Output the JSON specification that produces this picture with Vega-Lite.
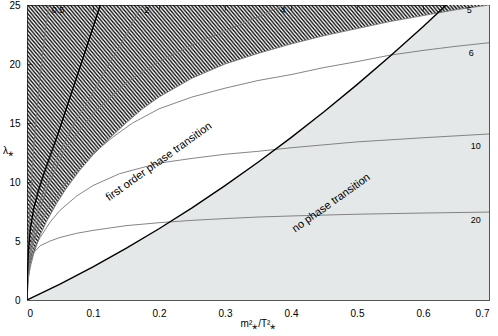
{
"$schema": "https://vega.github.io/schema/vega-lite/v6.json",
"width": 462, "height": 295,
"autosize": {"type": "none"},
"padding": {"left": 27, "top": 5, "right": 9, "bottom": 36},
"background": "white",
"config": {
 "view": {"stroke": "#555", "strokeWidth": 1},
 "axis": {"grid": false, "domainColor": "#555", "tickColor": "#555", "tickSize": -5, "labelColor": "#000", "labelFont": "Liberation Sans", "labelFontSize": 10, "titleFont": "Liberation Sans", "titleFontSize": 10, "titleFontWeight": "normal", "titleColor": "#000", "labelPadding": 12},
 "text": {"font": "Liberation Sans"}
},
"datasets": {
 "gray": [
  {"x":0,"y":0},{"x":0.05,"y":1.35},{"x":0.1,"y":2.81},{"x":0.15,"y":4.37},{"x":0.2,"y":6.04},{"x":0.25,"y":7.81},{"x":0.3,"y":9.69},{"x":0.35,"y":11.67},{"x":0.4,"y":13.76},{"x":0.45,"y":15.95},{"x":0.5,"y":18.25},{"x":0.55,"y":20.65},{"x":0.6,"y":23.16},{"x":0.65,"y":25.77},{"x":0.7,"y":28.49}
 ],
 "thin": [
  {"c":"0.5","x":0,"y":0},{"c":"0.5","x":0.0005,"y":2},{"c":"0.5","x":0.002,"y":5},{"c":"0.5","x":0.005,"y":8.5},{"c":"0.5","x":0.009,"y":12},{"c":"0.5","x":0.014,"y":15.5},{"c":"0.5","x":0.02,"y":19},{"c":"0.5","x":0.027,"y":22.5},{"c":"0.5","x":0.033,"y":25},
  {"c":"2","x":0,"y":0},{"c":"2","x":0.002,"y":3},{"c":"2","x":0.008,"y":5.5},{"c":"2","x":0.02,"y":8.5},{"c":"2","x":0.04,"y":11.5},{"c":"2","x":0.07,"y":14.8},{"c":"2","x":0.1,"y":17.6},{"c":"2","x":0.135,"y":21},{"c":"2","x":0.175,"y":25},
  {"c":"4","x":0,"y":0},{"c":"4","x":0.003,"y":3},{"c":"4","x":0.012,"y":6},{"c":"4","x":0.03,"y":9.5},{"c":"4","x":0.06,"y":13},{"c":"4","x":0.1,"y":15.8},{"c":"4","x":0.15,"y":18.4},{"c":"4","x":0.2,"y":20.2},{"c":"4","x":0.25,"y":21.6},{"c":"4","x":0.3,"y":22.8},{"c":"4","x":0.35,"y":24.0},{"c":"4","x":0.39,"y":25},
  {"c":"5","x":0,"y":0},{"c":"5","x":0.002,"y":1.8},{"c":"5","x":0.005,"y":2.8},{"c":"5","x":0.01,"y":3.9},{"c":"5","x":0.02,"y":5.5},{"c":"5","x":0.03,"y":6.7},{"c":"5","x":0.045,"y":8.2},{"c":"5","x":0.06,"y":9.5},{"c":"5","x":0.08,"y":11},{"c":"5","x":0.1,"y":12.3},{"c":"5","x":0.125,"y":13.7},{"c":"5","x":0.15,"y":15.0},{"c":"5","x":0.175,"y":16.2},{"c":"5","x":0.2,"y":17.2},{"c":"5","x":0.25,"y":18.8},{"c":"5","x":0.3,"y":20.0},{"c":"5","x":0.35,"y":20.9},{"c":"5","x":0.4,"y":21.7},{"c":"5","x":0.45,"y":22.4},{"c":"5","x":0.5,"y":23.0},{"c":"5","x":0.55,"y":23.6},{"c":"5","x":0.6,"y":24.1},{"c":"5","x":0.65,"y":24.6},{"c":"5","x":0.7,"y":25.0},
  {"c":"6","x":0,"y":0},{"c":"6","x":0.001,"y":2.2},{"c":"6","x":0.005,"y":3.8},{"c":"6","x":0.015,"y":5.8},{"c":"6","x":0.03,"y":7.6},{"c":"6","x":0.05,"y":9.3},{"c":"6","x":0.075,"y":11.0},{"c":"6","x":0.1,"y":12.4},{"c":"6","x":0.13,"y":13.8},{"c":"6","x":0.16,"y":15.0},{"c":"6","x":0.2,"y":16.2},{"c":"6","x":0.25,"y":17.2},{"c":"6","x":0.3,"y":17.95},{"c":"6","x":0.35,"y":18.6},{"c":"6","x":0.4,"y":19.1},{"c":"6","x":0.45,"y":19.7},{"c":"6","x":0.5,"y":20.2},{"c":"6","x":0.55,"y":20.75},{"c":"6","x":0.6,"y":21.15},{"c":"6","x":0.65,"y":21.5},{"c":"6","x":0.7,"y":21.8},
  {"c":"10","x":0,"y":0},{"c":"10","x":0.001,"y":1.8},{"c":"10","x":0.004,"y":3.2},{"c":"10","x":0.01,"y":4.3},{"c":"10","x":0.02,"y":5.3},{"c":"10","x":0.035,"y":6.6},{"c":"10","x":0.05,"y":7.6},{"c":"10","x":0.075,"y":8.8},{"c":"10","x":0.1,"y":9.7},{"c":"10","x":0.14,"y":10.7},{"c":"10","x":0.2,"y":11.6},{"c":"10","x":0.25,"y":12.0},{"c":"10","x":0.3,"y":12.35},{"c":"10","x":0.35,"y":12.6},{"c":"10","x":0.4,"y":12.9},{"c":"10","x":0.5,"y":13.4},{"c":"10","x":0.6,"y":13.75},{"c":"10","x":0.7,"y":14.07},
  {"c":"20","x":0,"y":0},{"c":"20","x":0.0005,"y":1.2},{"c":"20","x":0.002,"y":2.4},{"c":"20","x":0.005,"y":3.3},{"c":"20","x":0.01,"y":4.0},{"c":"20","x":0.02,"y":4.6},{"c":"20","x":0.035,"y":5.0},{"c":"20","x":0.05,"y":5.3},{"c":"20","x":0.075,"y":5.65},{"c":"20","x":0.1,"y":5.9},{"c":"20","x":0.15,"y":6.3},{"c":"20","x":0.2,"y":6.55},{"c":"20","x":0.25,"y":6.75},{"c":"20","x":0.3,"y":6.9},{"c":"20","x":0.35,"y":7.03},{"c":"20","x":0.4,"y":7.12},{"c":"20","x":0.5,"y":7.27},{"c":"20","x":0.6,"y":7.37},{"c":"20","x":0.7,"y":7.45}
 ],
 "thick": [
  {"c":"A","x":0,"y":0},{"c":"A","x":0.0005,"y":2},{"c":"A","x":0.002,"y":4},{"c":"A","x":0.005,"y":6},{"c":"A","x":0.01,"y":7.7},{"c":"A","x":0.017,"y":9.2},{"c":"A","x":0.025,"y":10.6},{"c":"A","x":0.035,"y":12.2},{"c":"A","x":0.05,"y":14.6},{"c":"A","x":0.07,"y":18.0},{"c":"A","x":0.09,"y":21.4},{"c":"A","x":0.111,"y":25},
  {"c":"C","x":0,"y":0},{"c":"C","x":0.05,"y":1.35},{"c":"C","x":0.1,"y":2.81},{"c":"C","x":0.15,"y":4.37},{"c":"C","x":0.2,"y":6.04},{"c":"C","x":0.25,"y":7.81},{"c":"C","x":0.3,"y":9.69},{"c":"C","x":0.35,"y":11.67},{"c":"C","x":0.4,"y":13.76},{"c":"C","x":0.45,"y":15.95},{"c":"C","x":0.5,"y":18.25},{"c":"C","x":0.55,"y":20.65},{"c":"C","x":0.6,"y":23.16},{"c":"C","x":0.65,"y":25.77},{"c":"C","x":0.7,"y":28.49}
 ],
 "labels": [
  {"t":"0.5","x":0.047,"y":24.6},{"t":"2","x":0.182,"y":24.6},{"t":"4","x":0.388,"y":24.6},{"t":"5","x":0.67,"y":24.6},{"t":"6","x":0.673,"y":20.9},{"t":"10","x":0.68,"y":13.05},{"t":"20","x":0.68,"y":6.78}
 ],
 "notes": [
  {"t":"first order phase transition","x":0.2,"y":11.7},
  {"t":"no phase transition","x":0.461,"y":8.2}
 ]
},
"layer": [
 {"layer": [
  {"data": {"name": "gray"},
   "mark": {"type": "area", "color": "#e4e8e8", "clip": true},
   "encoding": {
    "x": {"field": "x", "type": "quantitative", "scale": {"domain": [0, 0.7], "nice": false},
          "axis": {"values": [0,0.1,0.2,0.3,0.4,0.5,0.6,0.7], "format": "~g", "title": "m²⁎/T²⁎", "titlePadding": 0, "labelPadding": 13}},
    "y": {"field": "y", "type": "quantitative", "scale": {"domain": [0, 25], "nice": false},
          "axis": {"values": [0,5,10,15,20,25], "title": "λ⁎", "titleAngle": 0, "titleX": -19, "titleY": 145, "titleAlign": "center", "titleBaseline": "middle"}},
    "y2": {"datum": 0}
   }},
  {"data": {"name": "thin"},
   "transform": [{"filter": "datum.c == '5'"}],
   "mark": {"type": "area", "clip": true, "fill": {"gradient": "linear", "x1": 0, "y1": 1, "x2": 1.193, "y2": 0.3605, "stops": [
{"offset":0,"color":"#111"},{"offset":0.0025,"color":"#0000"},{"offset":0.005,"color":"#111"},{"offset":0.0075,"color":"#0000"},
{"offset":0.01,"color":"#111"},{"offset":0.0125,"color":"#0000"},{"offset":0.015,"color":"#111"},{"offset":0.0175,"color":"#0000"},
{"offset":0.02,"color":"#111"},{"offset":0.0225,"color":"#0000"},{"offset":0.025,"color":"#111"},{"offset":0.0275,"color":"#0000"},
{"offset":0.03,"color":"#111"},{"offset":0.0325,"color":"#0000"},{"offset":0.035,"color":"#111"},{"offset":0.0375,"color":"#0000"},
{"offset":0.04,"color":"#111"},{"offset":0.0425,"color":"#0000"},{"offset":0.045,"color":"#111"},{"offset":0.0475,"color":"#0000"},
{"offset":0.05,"color":"#111"},{"offset":0.0525,"color":"#0000"},{"offset":0.055,"color":"#111"},{"offset":0.0575,"color":"#0000"},
{"offset":0.06,"color":"#111"},{"offset":0.0625,"color":"#0000"},{"offset":0.065,"color":"#111"},{"offset":0.0675,"color":"#0000"},
{"offset":0.07,"color":"#111"},{"offset":0.0725,"color":"#0000"},{"offset":0.075,"color":"#111"},{"offset":0.0775,"color":"#0000"},
{"offset":0.08,"color":"#111"},{"offset":0.0825,"color":"#0000"},{"offset":0.085,"color":"#111"},{"offset":0.0875,"color":"#0000"},
{"offset":0.09,"color":"#111"},{"offset":0.0925,"color":"#0000"},{"offset":0.095,"color":"#111"},{"offset":0.0975,"color":"#0000"},
{"offset":0.1,"color":"#111"},{"offset":0.1025,"color":"#0000"},{"offset":0.105,"color":"#111"},{"offset":0.1075,"color":"#0000"},
{"offset":0.11,"color":"#111"},{"offset":0.1125,"color":"#0000"},{"offset":0.115,"color":"#111"},{"offset":0.1175,"color":"#0000"},
{"offset":0.12,"color":"#111"},{"offset":0.1225,"color":"#0000"},{"offset":0.125,"color":"#111"},{"offset":0.1275,"color":"#0000"},
{"offset":0.13,"color":"#111"},{"offset":0.1325,"color":"#0000"},{"offset":0.135,"color":"#111"},{"offset":0.1375,"color":"#0000"},
{"offset":0.14,"color":"#111"},{"offset":0.1425,"color":"#0000"},{"offset":0.145,"color":"#111"},{"offset":0.1475,"color":"#0000"},
{"offset":0.15,"color":"#111"},{"offset":0.1525,"color":"#0000"},{"offset":0.155,"color":"#111"},{"offset":0.1575,"color":"#0000"},
{"offset":0.16,"color":"#111"},{"offset":0.1625,"color":"#0000"},{"offset":0.165,"color":"#111"},{"offset":0.1675,"color":"#0000"},
{"offset":0.17,"color":"#111"},{"offset":0.1725,"color":"#0000"},{"offset":0.175,"color":"#111"},{"offset":0.1775,"color":"#0000"},
{"offset":0.18,"color":"#111"},{"offset":0.1825,"color":"#0000"},{"offset":0.185,"color":"#111"},{"offset":0.1875,"color":"#0000"},
{"offset":0.19,"color":"#111"},{"offset":0.1925,"color":"#0000"},{"offset":0.195,"color":"#111"},{"offset":0.1975,"color":"#0000"},
{"offset":0.2,"color":"#111"},{"offset":0.2025,"color":"#0000"},{"offset":0.205,"color":"#111"},{"offset":0.2075,"color":"#0000"},
{"offset":0.21,"color":"#111"},{"offset":0.2125,"color":"#0000"},{"offset":0.215,"color":"#111"},{"offset":0.2175,"color":"#0000"},
{"offset":0.22,"color":"#111"},{"offset":0.2225,"color":"#0000"},{"offset":0.225,"color":"#111"},{"offset":0.2275,"color":"#0000"},
{"offset":0.23,"color":"#111"},{"offset":0.2325,"color":"#0000"},{"offset":0.235,"color":"#111"},{"offset":0.2375,"color":"#0000"},
{"offset":0.24,"color":"#111"},{"offset":0.2425,"color":"#0000"},{"offset":0.245,"color":"#111"},{"offset":0.2475,"color":"#0000"},
{"offset":0.25,"color":"#111"},{"offset":0.2525,"color":"#0000"},{"offset":0.255,"color":"#111"},{"offset":0.2575,"color":"#0000"},
{"offset":0.26,"color":"#111"},{"offset":0.2625,"color":"#0000"},{"offset":0.265,"color":"#111"},{"offset":0.2675,"color":"#0000"},
{"offset":0.27,"color":"#111"},{"offset":0.2725,"color":"#0000"},{"offset":0.275,"color":"#111"},{"offset":0.2775,"color":"#0000"},
{"offset":0.28,"color":"#111"},{"offset":0.2825,"color":"#0000"},{"offset":0.285,"color":"#111"},{"offset":0.2875,"color":"#0000"},
{"offset":0.29,"color":"#111"},{"offset":0.2925,"color":"#0000"},{"offset":0.295,"color":"#111"},{"offset":0.2975,"color":"#0000"},
{"offset":0.3,"color":"#111"},{"offset":0.3025,"color":"#0000"},{"offset":0.305,"color":"#111"},{"offset":0.3075,"color":"#0000"},
{"offset":0.31,"color":"#111"},{"offset":0.3125,"color":"#0000"},{"offset":0.315,"color":"#111"},{"offset":0.3175,"color":"#0000"},
{"offset":0.32,"color":"#111"},{"offset":0.3225,"color":"#0000"},{"offset":0.325,"color":"#111"},{"offset":0.3275,"color":"#0000"},
{"offset":0.33,"color":"#111"},{"offset":0.3325,"color":"#0000"},{"offset":0.335,"color":"#111"},{"offset":0.3375,"color":"#0000"},
{"offset":0.34,"color":"#111"},{"offset":0.3425,"color":"#0000"},{"offset":0.345,"color":"#111"},{"offset":0.3475,"color":"#0000"},
{"offset":0.35,"color":"#111"},{"offset":0.3525,"color":"#0000"},{"offset":0.355,"color":"#111"},{"offset":0.3575,"color":"#0000"},
{"offset":0.36,"color":"#111"},{"offset":0.3625,"color":"#0000"},{"offset":0.365,"color":"#111"},{"offset":0.3675,"color":"#0000"},
{"offset":0.37,"color":"#111"},{"offset":0.3725,"color":"#0000"},{"offset":0.375,"color":"#111"},{"offset":0.3775,"color":"#0000"},
{"offset":0.38,"color":"#111"},{"offset":0.3825,"color":"#0000"},{"offset":0.385,"color":"#111"},{"offset":0.3875,"color":"#0000"},
{"offset":0.39,"color":"#111"},{"offset":0.3925,"color":"#0000"},{"offset":0.395,"color":"#111"},{"offset":0.3975,"color":"#0000"},
{"offset":0.4,"color":"#111"},{"offset":0.4025,"color":"#0000"},{"offset":0.405,"color":"#111"},{"offset":0.4075,"color":"#0000"},
{"offset":0.41,"color":"#111"},{"offset":0.4125,"color":"#0000"},{"offset":0.415,"color":"#111"},{"offset":0.4175,"color":"#0000"},
{"offset":0.42,"color":"#111"},{"offset":0.4225,"color":"#0000"},{"offset":0.425,"color":"#111"},{"offset":0.4275,"color":"#0000"},
{"offset":0.43,"color":"#111"},{"offset":0.4325,"color":"#0000"},{"offset":0.435,"color":"#111"},{"offset":0.4375,"color":"#0000"},
{"offset":0.44,"color":"#111"},{"offset":0.4425,"color":"#0000"},{"offset":0.445,"color":"#111"},{"offset":0.4475,"color":"#0000"},
{"offset":0.45,"color":"#111"},{"offset":0.4525,"color":"#0000"},{"offset":0.455,"color":"#111"},{"offset":0.4575,"color":"#0000"},
{"offset":0.46,"color":"#111"},{"offset":0.4625,"color":"#0000"},{"offset":0.465,"color":"#111"},{"offset":0.4675,"color":"#0000"},
{"offset":0.47,"color":"#111"},{"offset":0.4725,"color":"#0000"},{"offset":0.475,"color":"#111"},{"offset":0.4775,"color":"#0000"},
{"offset":0.48,"color":"#111"},{"offset":0.4825,"color":"#0000"},{"offset":0.485,"color":"#111"},{"offset":0.4875,"color":"#0000"},
{"offset":0.49,"color":"#111"},{"offset":0.4925,"color":"#0000"},{"offset":0.495,"color":"#111"},{"offset":0.4975,"color":"#0000"},
{"offset":0.5,"color":"#111"},{"offset":0.5025,"color":"#0000"},{"offset":0.505,"color":"#111"},{"offset":0.5075,"color":"#0000"},
{"offset":0.51,"color":"#111"},{"offset":0.5125,"color":"#0000"},{"offset":0.515,"color":"#111"},{"offset":0.5175,"color":"#0000"},
{"offset":0.52,"color":"#111"},{"offset":0.5225,"color":"#0000"},{"offset":0.525,"color":"#111"},{"offset":0.5275,"color":"#0000"},
{"offset":0.53,"color":"#111"},{"offset":0.5325,"color":"#0000"},{"offset":0.535,"color":"#111"},{"offset":0.5375,"color":"#0000"},
{"offset":0.54,"color":"#111"},{"offset":0.5425,"color":"#0000"},{"offset":0.545,"color":"#111"},{"offset":0.5475,"color":"#0000"},
{"offset":0.55,"color":"#111"},{"offset":0.5525,"color":"#0000"},{"offset":0.555,"color":"#111"},{"offset":0.5575,"color":"#0000"},
{"offset":0.56,"color":"#111"},{"offset":0.5625,"color":"#0000"},{"offset":0.565,"color":"#111"},{"offset":0.5675,"color":"#0000"},
{"offset":0.57,"color":"#111"},{"offset":0.5725,"color":"#0000"},{"offset":0.575,"color":"#111"},{"offset":0.5775,"color":"#0000"},
{"offset":0.58,"color":"#111"},{"offset":0.5825,"color":"#0000"},{"offset":0.585,"color":"#111"},{"offset":0.5875,"color":"#0000"},
{"offset":0.59,"color":"#111"},{"offset":0.5925,"color":"#0000"},{"offset":0.595,"color":"#111"},{"offset":0.5975,"color":"#0000"},
{"offset":0.6,"color":"#111"},{"offset":0.6025,"color":"#0000"},{"offset":0.605,"color":"#111"},{"offset":0.6075,"color":"#0000"},
{"offset":0.61,"color":"#111"},{"offset":0.6125,"color":"#0000"},{"offset":0.615,"color":"#111"},{"offset":0.6175,"color":"#0000"},
{"offset":0.62,"color":"#111"},{"offset":0.6225,"color":"#0000"},{"offset":0.625,"color":"#111"},{"offset":0.6275,"color":"#0000"},
{"offset":0.63,"color":"#111"},{"offset":0.6325,"color":"#0000"},{"offset":0.635,"color":"#111"},{"offset":0.6375,"color":"#0000"},
{"offset":0.64,"color":"#111"},{"offset":0.6425,"color":"#0000"},{"offset":0.645,"color":"#111"},{"offset":0.6475,"color":"#0000"},
{"offset":0.65,"color":"#111"},{"offset":0.6525,"color":"#0000"},{"offset":0.655,"color":"#111"},{"offset":0.6575,"color":"#0000"},
{"offset":0.66,"color":"#111"},{"offset":0.6625,"color":"#0000"},{"offset":0.665,"color":"#111"},{"offset":0.6675,"color":"#0000"},
{"offset":0.67,"color":"#111"},{"offset":0.6725,"color":"#0000"},{"offset":0.675,"color":"#111"},{"offset":0.6775,"color":"#0000"},
{"offset":0.68,"color":"#111"},{"offset":0.6825,"color":"#0000"},{"offset":0.685,"color":"#111"},{"offset":0.6875,"color":"#0000"},
{"offset":0.69,"color":"#111"},{"offset":0.6925,"color":"#0000"},{"offset":0.695,"color":"#111"},{"offset":0.6975,"color":"#0000"},
{"offset":0.7,"color":"#111"},{"offset":0.7025,"color":"#0000"},{"offset":0.705,"color":"#111"},{"offset":0.7075,"color":"#0000"},
{"offset":0.71,"color":"#111"},{"offset":0.7125,"color":"#0000"},{"offset":0.715,"color":"#111"},{"offset":0.7175,"color":"#0000"},
{"offset":0.72,"color":"#111"},{"offset":0.7225,"color":"#0000"},{"offset":0.725,"color":"#111"},{"offset":0.7275,"color":"#0000"},
{"offset":0.73,"color":"#111"},{"offset":0.7325,"color":"#0000"},{"offset":0.735,"color":"#111"},{"offset":0.7375,"color":"#0000"},
{"offset":0.74,"color":"#111"},{"offset":0.7425,"color":"#0000"},{"offset":0.745,"color":"#111"},{"offset":0.7475,"color":"#0000"},
{"offset":0.75,"color":"#111"},{"offset":0.7525,"color":"#0000"},{"offset":0.755,"color":"#111"},{"offset":0.7575,"color":"#0000"},
{"offset":0.76,"color":"#111"},{"offset":0.7625,"color":"#0000"},{"offset":0.765,"color":"#111"},{"offset":0.7675,"color":"#0000"},
{"offset":0.77,"color":"#111"},{"offset":0.7725,"color":"#0000"},{"offset":0.775,"color":"#111"},{"offset":0.7775,"color":"#0000"},
{"offset":0.78,"color":"#111"},{"offset":0.7825,"color":"#0000"},{"offset":0.785,"color":"#111"},{"offset":0.7875,"color":"#0000"},
{"offset":0.79,"color":"#111"},{"offset":0.7925,"color":"#0000"},{"offset":0.795,"color":"#111"},{"offset":0.7975,"color":"#0000"},
{"offset":0.8,"color":"#111"},{"offset":0.8025,"color":"#0000"},{"offset":0.805,"color":"#111"},{"offset":0.8075,"color":"#0000"},
{"offset":0.81,"color":"#111"},{"offset":0.8125,"color":"#0000"},{"offset":0.815,"color":"#111"},{"offset":0.8175,"color":"#0000"},
{"offset":0.82,"color":"#111"},{"offset":0.8225,"color":"#0000"},{"offset":0.825,"color":"#111"},{"offset":0.8275,"color":"#0000"},
{"offset":0.83,"color":"#111"},{"offset":0.8325,"color":"#0000"},{"offset":0.835,"color":"#111"},{"offset":0.8375,"color":"#0000"},
{"offset":0.84,"color":"#111"},{"offset":0.8425,"color":"#0000"},{"offset":0.845,"color":"#111"},{"offset":0.8475,"color":"#0000"},
{"offset":0.85,"color":"#111"},{"offset":0.8525,"color":"#0000"},{"offset":0.855,"color":"#111"},{"offset":0.8575,"color":"#0000"},
{"offset":0.86,"color":"#111"},{"offset":0.8625,"color":"#0000"},{"offset":0.865,"color":"#111"},{"offset":0.8675,"color":"#0000"},
{"offset":0.87,"color":"#111"},{"offset":0.8725,"color":"#0000"},{"offset":0.875,"color":"#111"},{"offset":0.8775,"color":"#0000"},
{"offset":0.88,"color":"#111"},{"offset":0.8825,"color":"#0000"},{"offset":0.885,"color":"#111"},{"offset":0.8875,"color":"#0000"},
{"offset":0.89,"color":"#111"},{"offset":0.8925,"color":"#0000"},{"offset":0.895,"color":"#111"},{"offset":0.8975,"color":"#0000"},
{"offset":0.9,"color":"#111"},{"offset":0.9025,"color":"#0000"},{"offset":0.905,"color":"#111"},{"offset":0.9075,"color":"#0000"},
{"offset":0.91,"color":"#111"},{"offset":0.9125,"color":"#0000"},{"offset":0.915,"color":"#111"},{"offset":0.9175,"color":"#0000"},
{"offset":0.92,"color":"#111"},{"offset":0.9225,"color":"#0000"},{"offset":0.925,"color":"#111"},{"offset":0.9275,"color":"#0000"},
{"offset":0.93,"color":"#111"},{"offset":0.9325,"color":"#0000"},{"offset":0.935,"color":"#111"},{"offset":0.9375,"color":"#0000"},
{"offset":0.94,"color":"#111"},{"offset":0.9425,"color":"#0000"},{"offset":0.945,"color":"#111"},{"offset":0.9475,"color":"#0000"},
{"offset":0.95,"color":"#111"},{"offset":0.9525,"color":"#0000"},{"offset":0.955,"color":"#111"},{"offset":0.9575,"color":"#0000"},
{"offset":0.96,"color":"#111"},{"offset":0.9625,"color":"#0000"},{"offset":0.965,"color":"#111"},{"offset":0.9675,"color":"#0000"},
{"offset":0.97,"color":"#111"},{"offset":0.9725,"color":"#0000"},{"offset":0.975,"color":"#111"},{"offset":0.9775,"color":"#0000"},
{"offset":0.98,"color":"#111"},{"offset":0.9825,"color":"#0000"},{"offset":0.985,"color":"#111"},{"offset":0.9875,"color":"#0000"},
{"offset":0.99,"color":"#111"},{"offset":0.9925,"color":"#0000"},{"offset":0.995,"color":"#111"},{"offset":0.9975,"color":"#0000"},
{"offset":1,"color":"#111"}
   ]}},
   "encoding": {
    "x": {"field": "x", "type": "quantitative"},
    "y": {"field": "y", "type": "quantitative"},
    "y2": {"datum": 25}
   }},
  {"data": {"name": "thin"},
   "mark": {"type": "line", "color": "#777", "strokeWidth": 0.9, "clip": true},
   "encoding": {
    "x": {"field": "x", "type": "quantitative"},
    "y": {"field": "y", "type": "quantitative"},
    "detail": {"field": "c"}
   }},
  {"data": {"name": "thick"},
   "mark": {"type": "line", "color": "#000", "strokeWidth": 1.4, "clip": true},
   "encoding": {
    "x": {"field": "x", "type": "quantitative"},
    "y": {"field": "y", "type": "quantitative"},
    "detail": {"field": "c"}
   }},
  {"data": {"name": "notes"},
   "mark": {"type": "text", "fontSize": 11, "angle": -35.5, "color": "#000", "font": "Liberation Sans"},
   "encoding": {
    "x": {"field": "x", "type": "quantitative"},
    "y": {"field": "y", "type": "quantitative"},
    "text": {"field": "t"}
   }}
 ]},
 {"data": {"name": "labels"},
  "mark": {"type": "text", "fontSize": 9, "color": "#000", "font": "Liberation Sans"},
  "encoding": {
   "x": {"field": "x", "type": "quantitative", "axis": {"orient": "top", "labels": false, "title": null, "values": [0,0.1,0.2,0.3,0.4,0.5,0.6,0.7]}},
   "y": {"field": "y", "type": "quantitative", "axis": {"orient": "right", "labels": false, "title": null, "values": [0,5,10,15,20,25]}},
   "text": {"field": "t"}
  }}
],
"resolve": {"axis": {"x": "independent", "y": "independent"}}
}
